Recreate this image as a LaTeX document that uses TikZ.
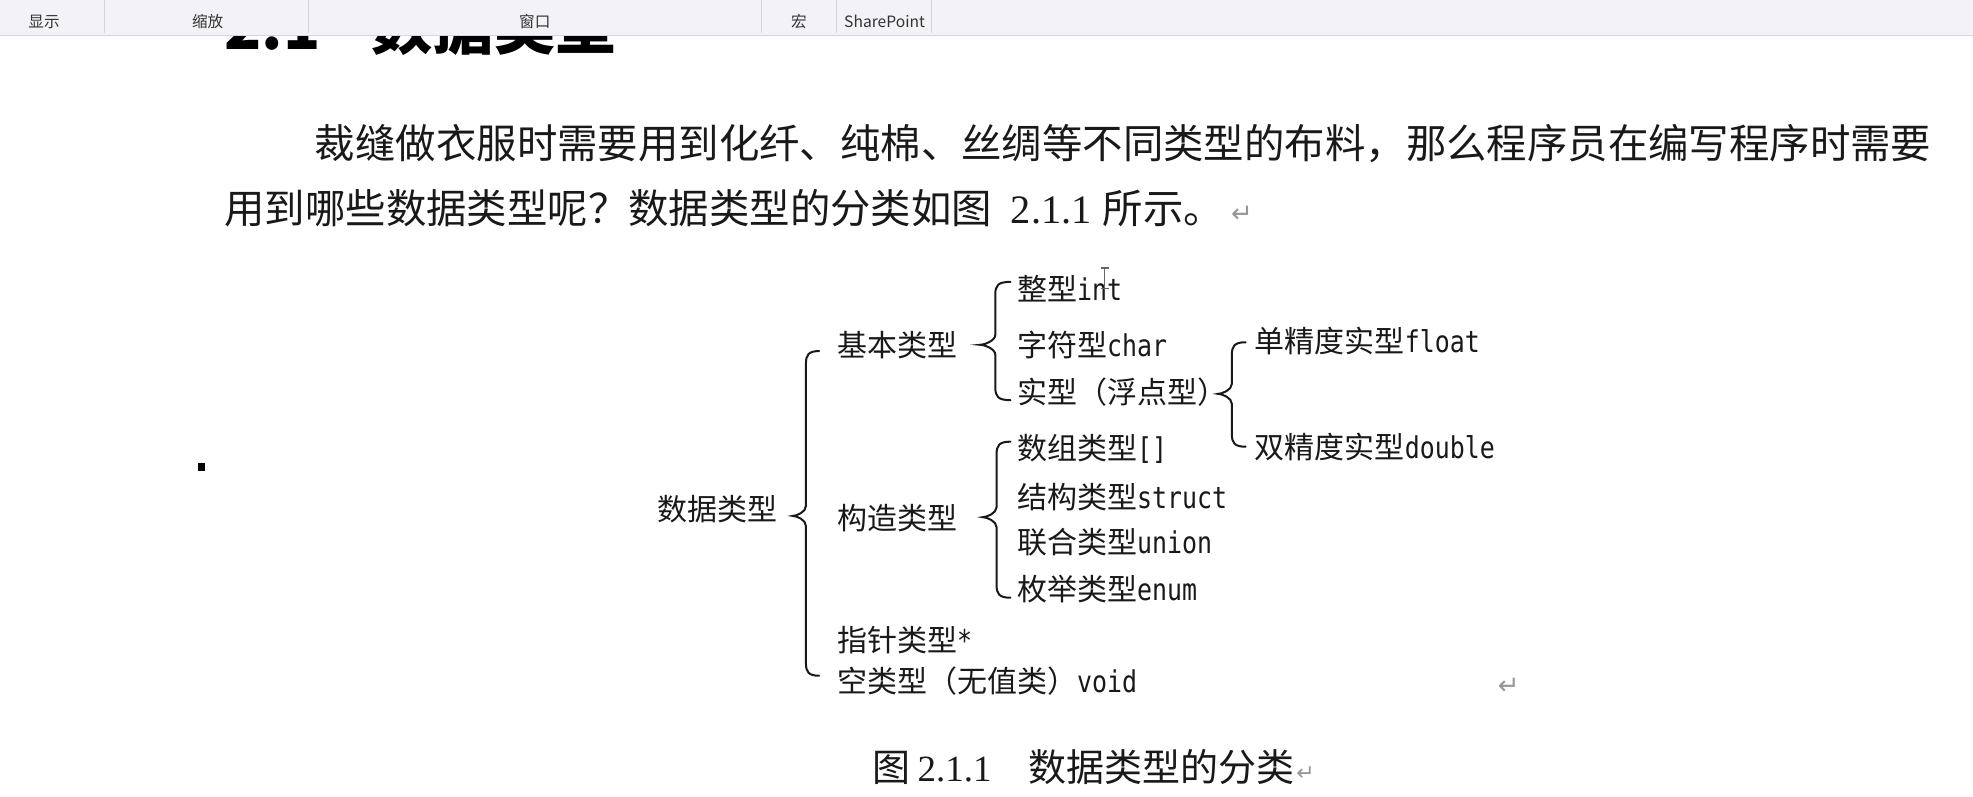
\documentclass[tikz,border=0pt]{standalone}
\usepackage{fontspec}
\newfontfamily\hei{Noto Sans CJK SC}
\newfontfamily\song{Noto Sans CJK SC}
\newfontfamily\tnr{Liberation Serif}
\newfontfamily\monolat[FakeStretch=0.83]{DejaVu Sans Mono}
\newfontfamily\symf{DejaVu Sans}
\newcommand\lat[1]{{\monolat #1}}
\definecolor{ribbonbg}{RGB}{243,242,246}
\definecolor{ribbonline}{RGB}{214,214,218}
\definecolor{inkc}{RGB}{25,25,25}
\definecolor{retc}{RGB}{150,150,150}
\newcommand\cbrace[5]{% tip x, end x, top y, mid y, bottom y
  \pgfmathsetmacro\bracemid{(#1+#2)/2}
  \draw[bracel] (#2,#3) .. controls (\bracemid+2,#3) and (\bracemid,#3+3) .. (\bracemid,#3+10)
    -- (\bracemid,#4-8) .. controls (\bracemid,#4-3) and (#1+3,#4) .. (#1,#4)
    .. controls (#1+3,#4) and (\bracemid,#4+3) .. (\bracemid,#4+8)
    -- (\bracemid,#5-10) .. controls (\bracemid,#5-3) and (\bracemid+2,#5) .. (#2,#5);
}
\tikzset{
  dg/.style={anchor=base west, inner sep=0pt, text=inkc, font=\hei\fontsize{15}{15}\selectfont},
  para/.style={anchor=base west, inner sep=0pt, text=inkc, font=\song\fontsize{20.2}{20.2}\selectfont},
  captext/.style={anchor=base west, inner sep=0pt, text=inkc, font=\song\fontsize{19}{19}\selectfont},
  head/.style={anchor=base west, inner sep=0pt, text=black, font=\hei\bfseries\fontsize{30.6}{30.6}\selectfont},
  rib/.style={anchor=base, inner sep=0pt, text=black!80, font=\hei\fontsize{7.8}{7.8}\selectfont},
  ret/.style={anchor=base west, inner sep=0pt, text=retc, font=\symf\fontsize{13}{13}\selectfont},
  bracel/.style={line width=1pt, inkc, line cap=round},
}
\begin{document}
\begin{tikzpicture}[x=0.629pt,y=-0.629pt]
\useasboundingbox (0,0) rectangle (1568,633);
\fill[white] (0,0) rectangle (1568,633);
% heading (clipped by ribbon)
\begin{scope}
\clip (0,29) rectangle (1568,633);
\node[head] (h1) at (178,39) {2.1};
\node[head] (h2) at (295,39) {数据类型};
\end{scope}
% ribbon
\fill[ribbonbg] (0,0) rectangle (1568,28);
\draw[ribbonline] (0,28.5) -- (1568,28.5);
\foreach \sx in {83,245,605,665,740} \draw[ribbonline] (\sx,0) -- (\sx,26);
\node[rib] (r1) at (35,21.5) {显示};
\node[rib] (r2) at (165,21.5) {缩放};
\node[rib] (r3) at (425,21.5) {窗口};
\node[rib] (r4) at (635,21.5) {宏};
\node[rib] (r5) at (703,21.5) {SharePoint};
% paragraph
\node[para] (p1) at (250,126) {裁缝做衣服时需要用到化纤、纯棉、丝绸等不同类型的布料，那么程序员在编写程序时需要};
\node[para] (p2) at (178,178) {用到哪些数据类型呢？数据类型的分类如图};
\node[para] (p3) at (803,178) {{\tnr 2.1.1}};
\node[para] (p4) at (876,178) {所示。};
\node[ret] (pr) at (978,177) {↵};
% marker
\fill[black] (157,368) rectangle (163,374);
% diagram
\node[dg] (root) at (522,414) {数据类型};
\node[dg] (basic) at (665,283) {基本类型};
\node[dg] (cons) at (665,421) {构造类型};
\node[dg] (ptr) at (665,518) {指针类型\lat{*}};
\node[dg] (void) at (665,550) {空类型（无值类）\lat{void}};
\node[dg] (int) at (808,239) {整型\lat{int}};
\node[dg] (char) at (808,283) {字符型\lat{char}};
\node[dg] (real) at (808,321) {实型（浮点型）};
\node[dg] (float) at (997,280) {单精度实型\lat{float}};
\node[dg] (double) at (997,364) {双精度实型\lat{double}};
\node[dg] (arr) at (808,365) {数组类型\lat{[]}};
\node[dg] (struct) at (808,404) {结构类型\lat{struct}};
\node[dg] (union) at (808,440) {联合类型\lat{union}};
\node[dg] (enum) at (808,477) {枚举类型\lat{enum}};
\cbrace{630}{651}{279}{410}{537}
\cbrace{779}{803}{224}{274}{318}
\cbrace{968}{990}{272}{313}{355}
\cbrace{781}{803}{351}{411}{475}
% text cursor
\draw[black!60, line width=0.6pt] (878,213) -- (878,229) (875,213) -- (881,213) (875,229) -- (881,229);
\node[ret] (dr) at (1190,552) {↵};
% caption
\node[captext] (c1) at (693,621) {图};
\node[captext,font=\tnr\fontsize{18.5}{18.5}\selectfont] (c2) at (729,621) {2.1.1};
\node[captext] (c3) at (817,621) {数据类型的分类};
\node[ret,font=\symf\fontsize{11}{11}\selectfont] (cr) at (1030,620) {↵};
\end{tikzpicture}
\end{document}
